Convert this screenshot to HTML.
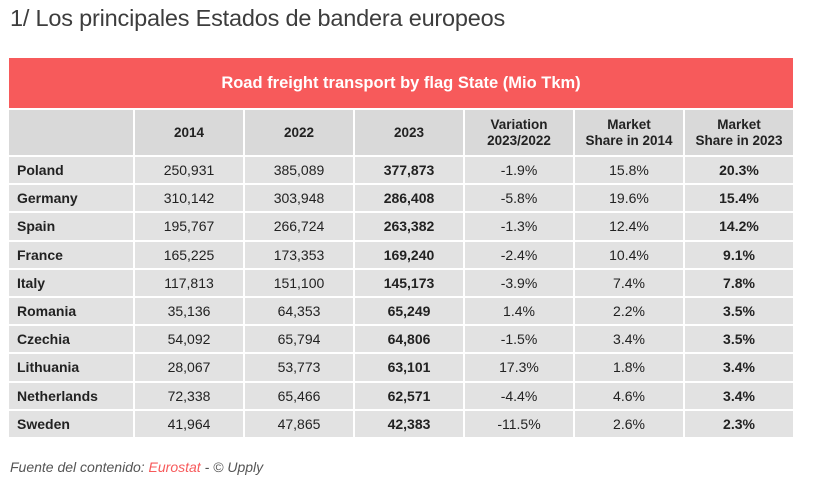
<!DOCTYPE html>
<html><head><meta charset="utf-8"><style>
body{margin:0;width:814px;height:483px;background:#fff;font-family:"Liberation Sans",sans-serif;position:relative;overflow:hidden}
.t{position:absolute;left:10px;top:5px;font-size:23.5px;color:#3d3d3d;letter-spacing:-0.2px}
.ban{position:absolute;left:9px;top:58px;width:784px;height:50px;background:#f75a5b;color:#fff;font-weight:bold;font-size:16.5px;text-align:center;line-height:50px}
.g{position:absolute;left:9px;top:110px;width:784px;display:grid;grid-template-columns:124px 108px 108px 108px 108px 108px 108px;grid-template-rows:45px repeat(10,26.2px);gap:2px}
.g div{background:#e2e2e2;font-size:14px;color:#222;display:flex;align-items:center;justify-content:center;text-align:center}
.g .h{background:#d9d9d9;font-weight:bold;font-size:13.5px;line-height:16px}
.g .n{justify-content:flex-start;padding-left:8px;font-weight:bold}
.g .b{font-weight:bold}
.c{position:absolute;left:10px;top:459px;font-size:14px;font-style:italic;color:#555}
.c span{color:#f75a5b}
</style></head><body>
<div class="t">1/ Los principales Estados de bandera europeos</div>
<div class="ban">Road freight transport by flag State (Mio Tkm)</div>
<div class="g">
<div class="h"></div><div class="h">2014</div><div class="h">2022</div><div class="h">2023</div><div class="h">Variation<br>2023/2022</div><div class="h">Market<br>Share in 2014</div><div class="h">Market<br>Share in 2023</div>
<div class="n">Poland</div><div>250,931</div><div>385,089</div><div class="b">377,873</div><div>-1.9%</div><div>15.8%</div><div class="b">20.3%</div>
<div class="n">Germany</div><div>310,142</div><div>303,948</div><div class="b">286,408</div><div>-5.8%</div><div>19.6%</div><div class="b">15.4%</div>
<div class="n">Spain</div><div>195,767</div><div>266,724</div><div class="b">263,382</div><div>-1.3%</div><div>12.4%</div><div class="b">14.2%</div>
<div class="n">France</div><div>165,225</div><div>173,353</div><div class="b">169,240</div><div>-2.4%</div><div>10.4%</div><div class="b">9.1%</div>
<div class="n">Italy</div><div>117,813</div><div>151,100</div><div class="b">145,173</div><div>-3.9%</div><div>7.4%</div><div class="b">7.8%</div>
<div class="n">Romania</div><div>35,136</div><div>64,353</div><div class="b">65,249</div><div>1.4%</div><div>2.2%</div><div class="b">3.5%</div>
<div class="n">Czechia</div><div>54,092</div><div>65,794</div><div class="b">64,806</div><div>-1.5%</div><div>3.4%</div><div class="b">3.5%</div>
<div class="n">Lithuania</div><div>28,067</div><div>53,773</div><div class="b">63,101</div><div>17.3%</div><div>1.8%</div><div class="b">3.4%</div>
<div class="n">Netherlands</div><div>72,338</div><div>65,466</div><div class="b">62,571</div><div>-4.4%</div><div>4.6%</div><div class="b">3.4%</div>
<div class="n">Sweden</div><div>41,964</div><div>47,865</div><div class="b">42,383</div><div>-11.5%</div><div>2.6%</div><div class="b">2.3%</div>
</div>
<div class="c">Fuente del contenido: <span>Eurostat</span> - © Upply</div>
</body></html>
